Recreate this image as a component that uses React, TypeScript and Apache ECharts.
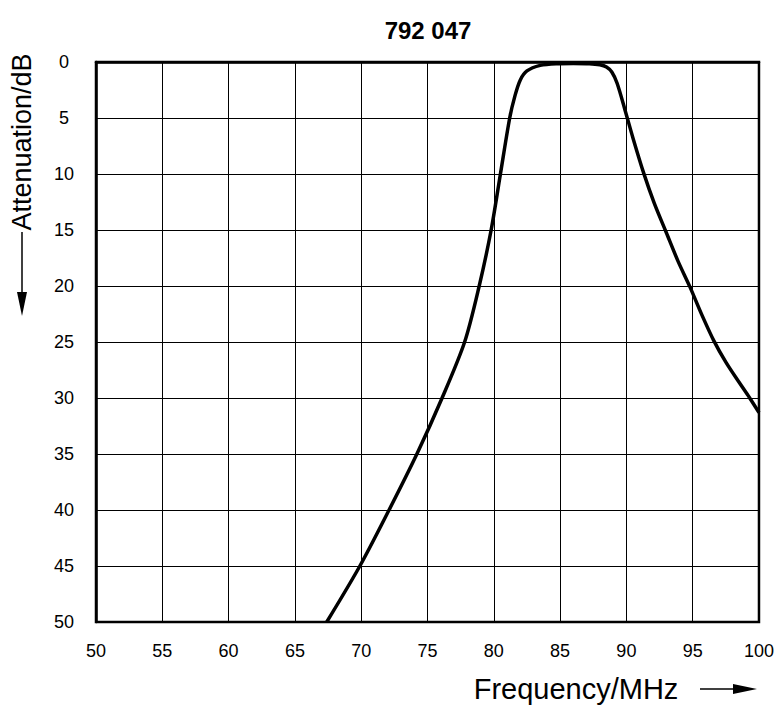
import React, { useEffect, useRef } from "react";
import * as echarts from "echarts";

const titleText = "792 047";
const xAxisName = "Frequency/MHz";
const yAxisName = "Attenuation/dB";
const xMin = 50;
const xMax = 100;
const xStep = 5;
const yMin = 0;
const yMax = 50;
const yStep = 5;

const frequencyMHz = [
  67.4, 69.9, 72.1, 74.2, 76.1, 77.8, 78.9, 79.8, 80.5, 81.2, 81.6, 82.0, 82.5, 83.5, 84.7, 86.0,
  87.2, 88.0, 88.5, 88.9, 89.3, 89.9, 90.5, 91.3, 92.1, 93.0, 93.9, 94.8, 95.7, 96.6, 97.5, 98.5,
  99.3, 100,
];
const attenuationDB = [
  50, 45, 40, 35, 30, 25, 20, 15, 10, 5, 3, 1.6, 0.8, 0.3, 0.15, 0.13,
  0.15, 0.25, 0.45, 0.9, 1.9, 4.3, 6.8, 9.9, 12.6, 15.2, 17.8, 20.1, 22.6, 24.9, 26.8, 28.6,
  30.0, 31.3,
];

const FONT = "Liberation Sans, Arial, sans-serif";

export default function App() {
  const ref = useRef<HTMLDivElement>(null);
  useEffect(() => {
    if (!ref.current) return;
    const chart = echarts.init(ref.current, undefined, { renderer: "svg" });
    const data = frequencyMHz.map((f, i) => [f, attenuationDB[i]]);
    chart.setOption({
      animation: false,
      backgroundColor: "#ffffff",
      grid: {
        left: 96,
        right: 18,
        top: 62,
        bottom: 83,
        show: true,
        borderColor: "#000",
        borderWidth: 2.5,
        containLabel: false,
      },
      xAxis: {
        type: "value",
        min: xMin,
        max: xMax,
        interval: xStep,
        axisLine: { show: true, lineStyle: { color: "#000", width: 2.5 } },
        axisTick: { show: false },
        axisLabel: {
          color: "#000",
          fontSize: 18,
          fontFamily: FONT,
          margin: 20,
        },
        splitLine: { show: true, lineStyle: { color: "#000", width: 1 } },
      },
      yAxis: {
        type: "value",
        inverse: true,
        min: yMin,
        max: yMax,
        interval: yStep,
        axisLine: { show: true, lineStyle: { color: "#000", width: 2.5 } },
        axisTick: { show: false },
        axisLabel: {
          color: "#000",
          fontSize: 18,
          fontFamily: FONT,
          margin: 32,
          align: "center",
        },
        splitLine: { show: true, lineStyle: { color: "#000", width: 1 } },
      },
      series: [
        {
          type: "line",
          data,
          smooth: 0.3,
          symbol: "none",
          lineStyle: { color: "#000", width: 3.5 },
          clip: true,
        },
      ],
      graphic: [
        {
          type: "text",
          x: 428,
          y: 30,
          style: {
            text: titleText,
            font: `bold 24px ${FONT}`,
            fill: "#000",
            align: "center",
            verticalAlign: "middle",
          },
        },
        {
          type: "text",
          x: 576,
          y: 689,
          style: {
            text: xAxisName,
            font: `29px ${FONT}`,
            fill: "#000",
            align: "center",
            verticalAlign: "middle",
          },
        },
        {
          type: "line",
          shape: { x1: 700, y1: 689, x2: 738, y2: 689 },
          style: { stroke: "#000", lineWidth: 1.5 },
        },
        {
          type: "polygon",
          shape: { points: [[733, 684], [757, 689], [733, 694]] },
          style: { fill: "#000" },
        },
        {
          type: "text",
          x: 22,
          y: 142,
          rotation: Math.PI / 2,
          style: {
            text: yAxisName,
            font: `27px ${FONT}`,
            fill: "#000",
            align: "center",
            verticalAlign: "middle",
          },
        },
        {
          type: "line",
          shape: { x1: 22, y1: 232, x2: 22, y2: 296 },
          style: { stroke: "#000", lineWidth: 1.5 },
        },
        {
          type: "polygon",
          shape: { points: [[17, 292], [22, 316], [27, 292]] },
          style: { fill: "#000" },
        },
      ],
    });
    return () => chart.dispose();
  }, []);
  return (
    <div
      ref={ref}
      style={{ position: "fixed", left: 0, top: 0, width: 777, height: 705 }}
    />
  );
}
